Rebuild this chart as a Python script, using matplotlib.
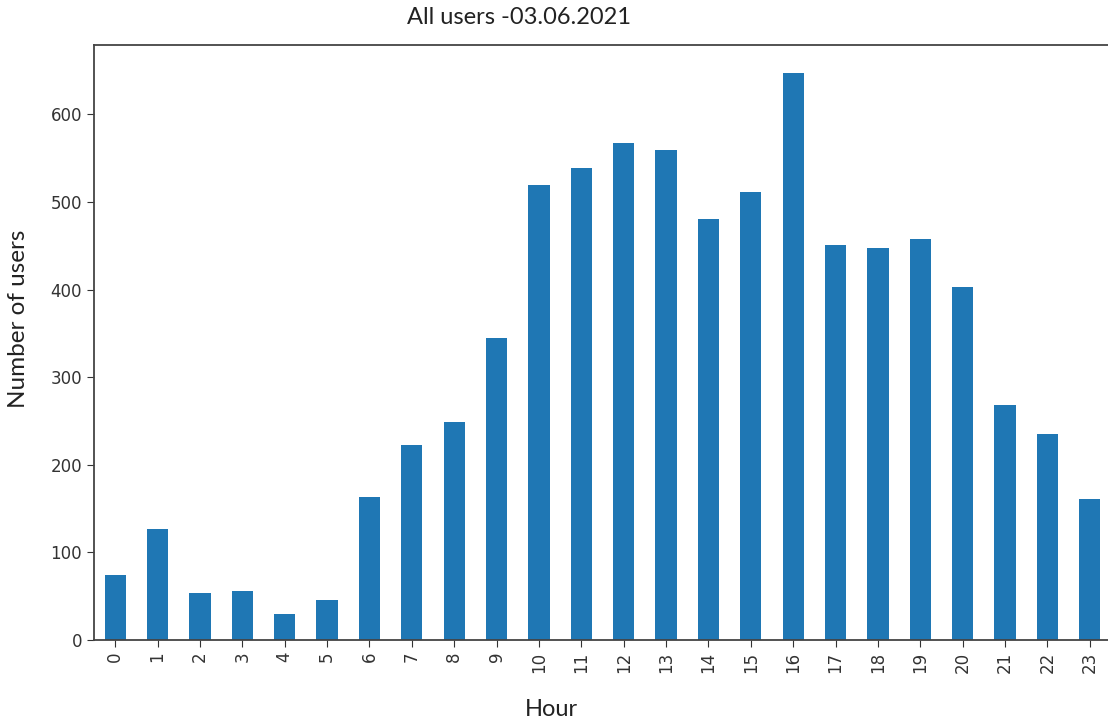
import numpy as np
import matplotlib.pyplot as plt

plt.rcParams['font.family'] = 'DejaVu Sans'

hours = list(range(24))
users = [74, 127, 54, 56, 30, 46, 163, 223, 249, 345, 519, 539,
         567, 559, 481, 512, 647, 451, 448, 458, 403, 268, 235, 161]

W, H = 1108, 722
fig = plt.figure(figsize=(W/100, H/100), dpi=100)
ax = fig.add_axes([94/W, 1-640/H, (1111-94)/W, (640-45)/H])

x = np.arange(len(hours))
ax.bar(x, users, width=0.5, color='#1f77b4')
ax.set_xlim(-0.5, len(hours)-0.5)
ax.set_ylim(0, max(users)*1.05)
ax.set_xticks(x)
ax.set_xticklabels([str(h) for h in hours], rotation=90)
ax.set_yticks([0, 100, 200, 300, 400, 500, 600])
ax.tick_params(labelsize=12, length=5, colors='#333333')
for s in ax.spines.values():
    s.set_linewidth(1.3)
    s.set_color('#444444')

fig.text(519/W, 1-17/H, 'All users -03.06.2021', ha='center', va='center',
         fontsize=17, family='Lato', color='#222222')
fig.text(551/W, 1-709/H, 'Hour', ha='center', va='center',
         fontsize=17, family='Lato', color='#222222')
fig.text(19/W, 1-319/H, 'Number of users', ha='center', va='center',
         rotation=90, fontsize=17.5, family='Lato', color='#222222')

fig.savefig('out.png', dpi=100)
